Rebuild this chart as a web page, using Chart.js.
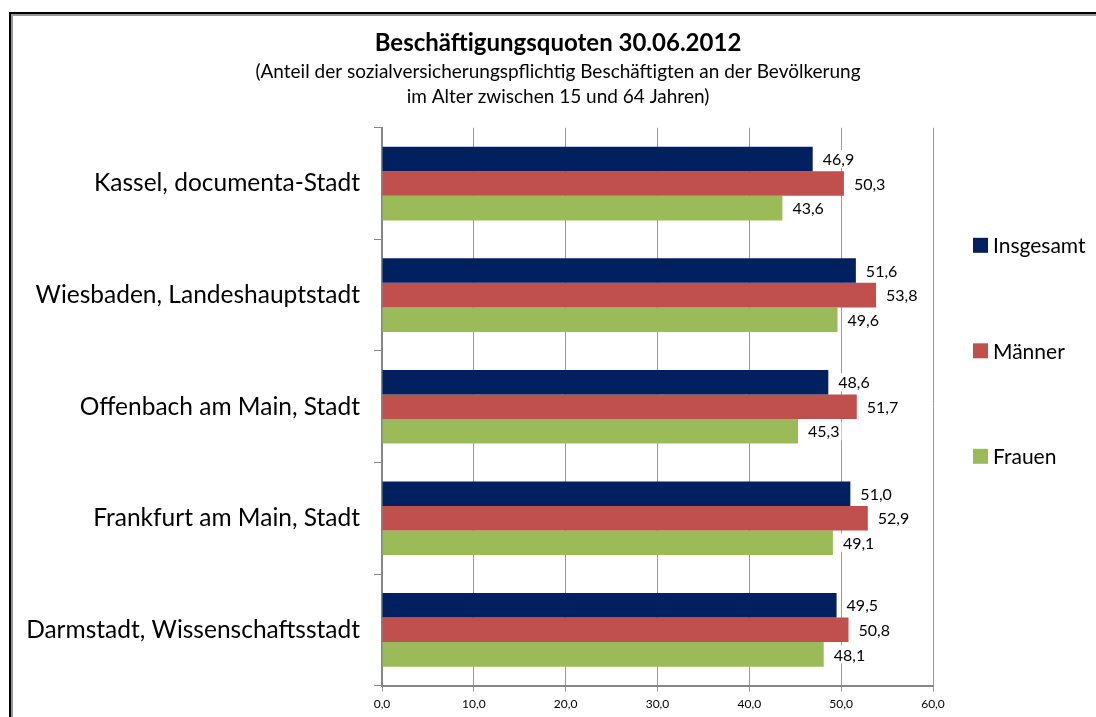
<!DOCTYPE html>
<html>
<head>
<meta charset="utf-8">
<script src="https://cdn.jsdelivr.net/npm/chart.js@4.4.0/dist/chart.umd.min.js"></script>
<style>
  html, body { margin: 0; padding: 0; background: #fff; overflow: hidden; }
  #frame { position: absolute; left: 9px; top: 12px; width: 1200px; height: 800px;
           border-left: 2px solid #000; border-top: 2px solid #000; }
  #frame div { width: 100%; height: 100%; border-left: 2px solid #999; border-top: 2px solid #999; }
  #wrap { position: absolute; left: 0; top: 0; width: 1096px; height: 717px; }
</style>
</head>
<body>
<div id="frame"><div></div></div>
<div id="wrap"><canvas id="quoten"></canvas></div>
<script>
const cities = ["Kassel, documenta-Stadt", "Wiesbaden, Landeshauptstadt", "Offenbach am Main, Stadt",
                "Frankfurt am Main, Stadt", "Darmstadt, Wissenschaftsstadt"];
const insgesamt = [46.9, 51.6, 48.6, 51.0, 49.5];
const maenner = [50.3, 53.8, 51.7, 52.9, 50.8];
const frauen = [43.6, 49.6, 45.3, 49.1, 48.1];
const seriesNames = ["Insgesamt", "Männer", "Frauen"];
const seriesColors = ["#002060", "#C0504D", "#9BBB59"];

const fontFam = "Lato, 'Noto Sans', sans-serif";

function fmt(v){
    return v.toFixed(1).replace(".", ",");
}

// value labels right of each bar
const valueLabels = {
    id: "valueLabels",
    afterDatasetsDraw(chart){
        const ctx = chart.ctx;
        ctx.save();
        ctx.font = "16px " + fontFam;
        ctx.textBaseline = "middle";
        ctx.textAlign = "left";
        chart.data.datasets.forEach((ds, i) => {
            chart.getDatasetMeta(i).data.forEach((bar, j) => {
                const txt = fmt(ds.data[j]);
                const w = ctx.measureText(txt).width;
                ctx.fillStyle = "#fff";
                ctx.fillRect(bar.x + 8, bar.y - 9, w + 4, 18);
                ctx.fillStyle = "#000";
                ctx.fillText(txt, bar.x + 10, bar.y + 1);
            });
        });
        ctx.restore();
    }
};

// legend on the right, spread out like the original
const sideLegend = {
    id: "sideLegend",
    afterDraw(chart){
        const ctx = chart.ctx;
        const area = chart.chartArea;
        ctx.save();
        ctx.font = "21px " + fontFam;
        ctx.textBaseline = "middle";
        chart.data.datasets.forEach((ds, i) => {
            const y = area.top + 117.5 + i * 105.5;
            ctx.fillStyle = ds.backgroundColor;
            ctx.fillRect(area.right + 40, y - 7.5, 15, 15);
            ctx.fillStyle = "#000";
            ctx.fillText(ds.label, area.right + 60, y + 1);
        });
        ctx.restore();
    }
};

new Chart("quoten", {
    type: "bar",
    data: {
        labels: cities,
        datasets: [
            { label: seriesNames[0], data: insgesamt, backgroundColor: seriesColors[0] },
            { label: seriesNames[1], data: maenner, backgroundColor: seriesColors[1] },
            { label: seriesNames[2], data: frauen, backgroundColor: seriesColors[2] }
        ]
    },
    options: {
        indexAxis: "y",
        responsive: true,
        maintainAspectRatio: false,
        animation: false,
        categoryPercentage: 0.66,
        barPercentage: 1.0,
        layout: { padding: { top: 16, left: 20, right: 0, bottom: 1 } },
        plugins: {
            legend: { display: false },
            tooltip: { enabled: false },
            title: {
                display: true,
                text: "Beschäftigungsquoten 30.06.2012",
                color: "#000",
                font: { family: fontFam, size: 24, weight: "bold", lineHeight: 1.2 },
                padding: { top: 13, bottom: 2 }
            },
            subtitle: {
                display: true,
                text: ["(Anteil der sozialversicherungspflichtig Beschäftigten an der Bevölkerung",
                       "im Alter zwischen 15 und 64 Jahren)"],
                color: "#000",
                font: { family: fontFam, size: 19, lineHeight: 1.316 },
                padding: { top: 0, bottom: 18 }
            }
        },
        scales: {
            x: {
                min: 0,
                max: 60,
                ticks: {
                    stepSize: 10,
                    padding: 5,
                    color: "#000",
                    font: { family: fontFam, size: 12 },
                    callback: v => fmt(v)
                },
                grid: { color: "#9a9a9a", lineWidth: 1, tickLength: 6 },
                border: { color: "#868686", width: 2 }
            },
            y: {
                ticks: {
                    padding: 14,
                    color: "#000",
                    font: { family: fontFam, size: 24.5 }
                },
                grid: { drawOnChartArea: false, color: "#868686", tickLength: 8, offset: true },
                border: { color: "#868686", width: 2 },
                afterFit(scale){ scale.width = 362; }
            },
            // empty scale on the right, keeps room for the legend
            side: {
                type: "linear",
                axis: "y",
                position: "right",
                ticks: { display: false },
                grid: { display: false },
                border: { display: false },
                afterFit(scale){ scale.width = 163; }
            }
        }
    },
    plugins: [valueLabels, sideLegend]
});
</script>
</body>
</html>
